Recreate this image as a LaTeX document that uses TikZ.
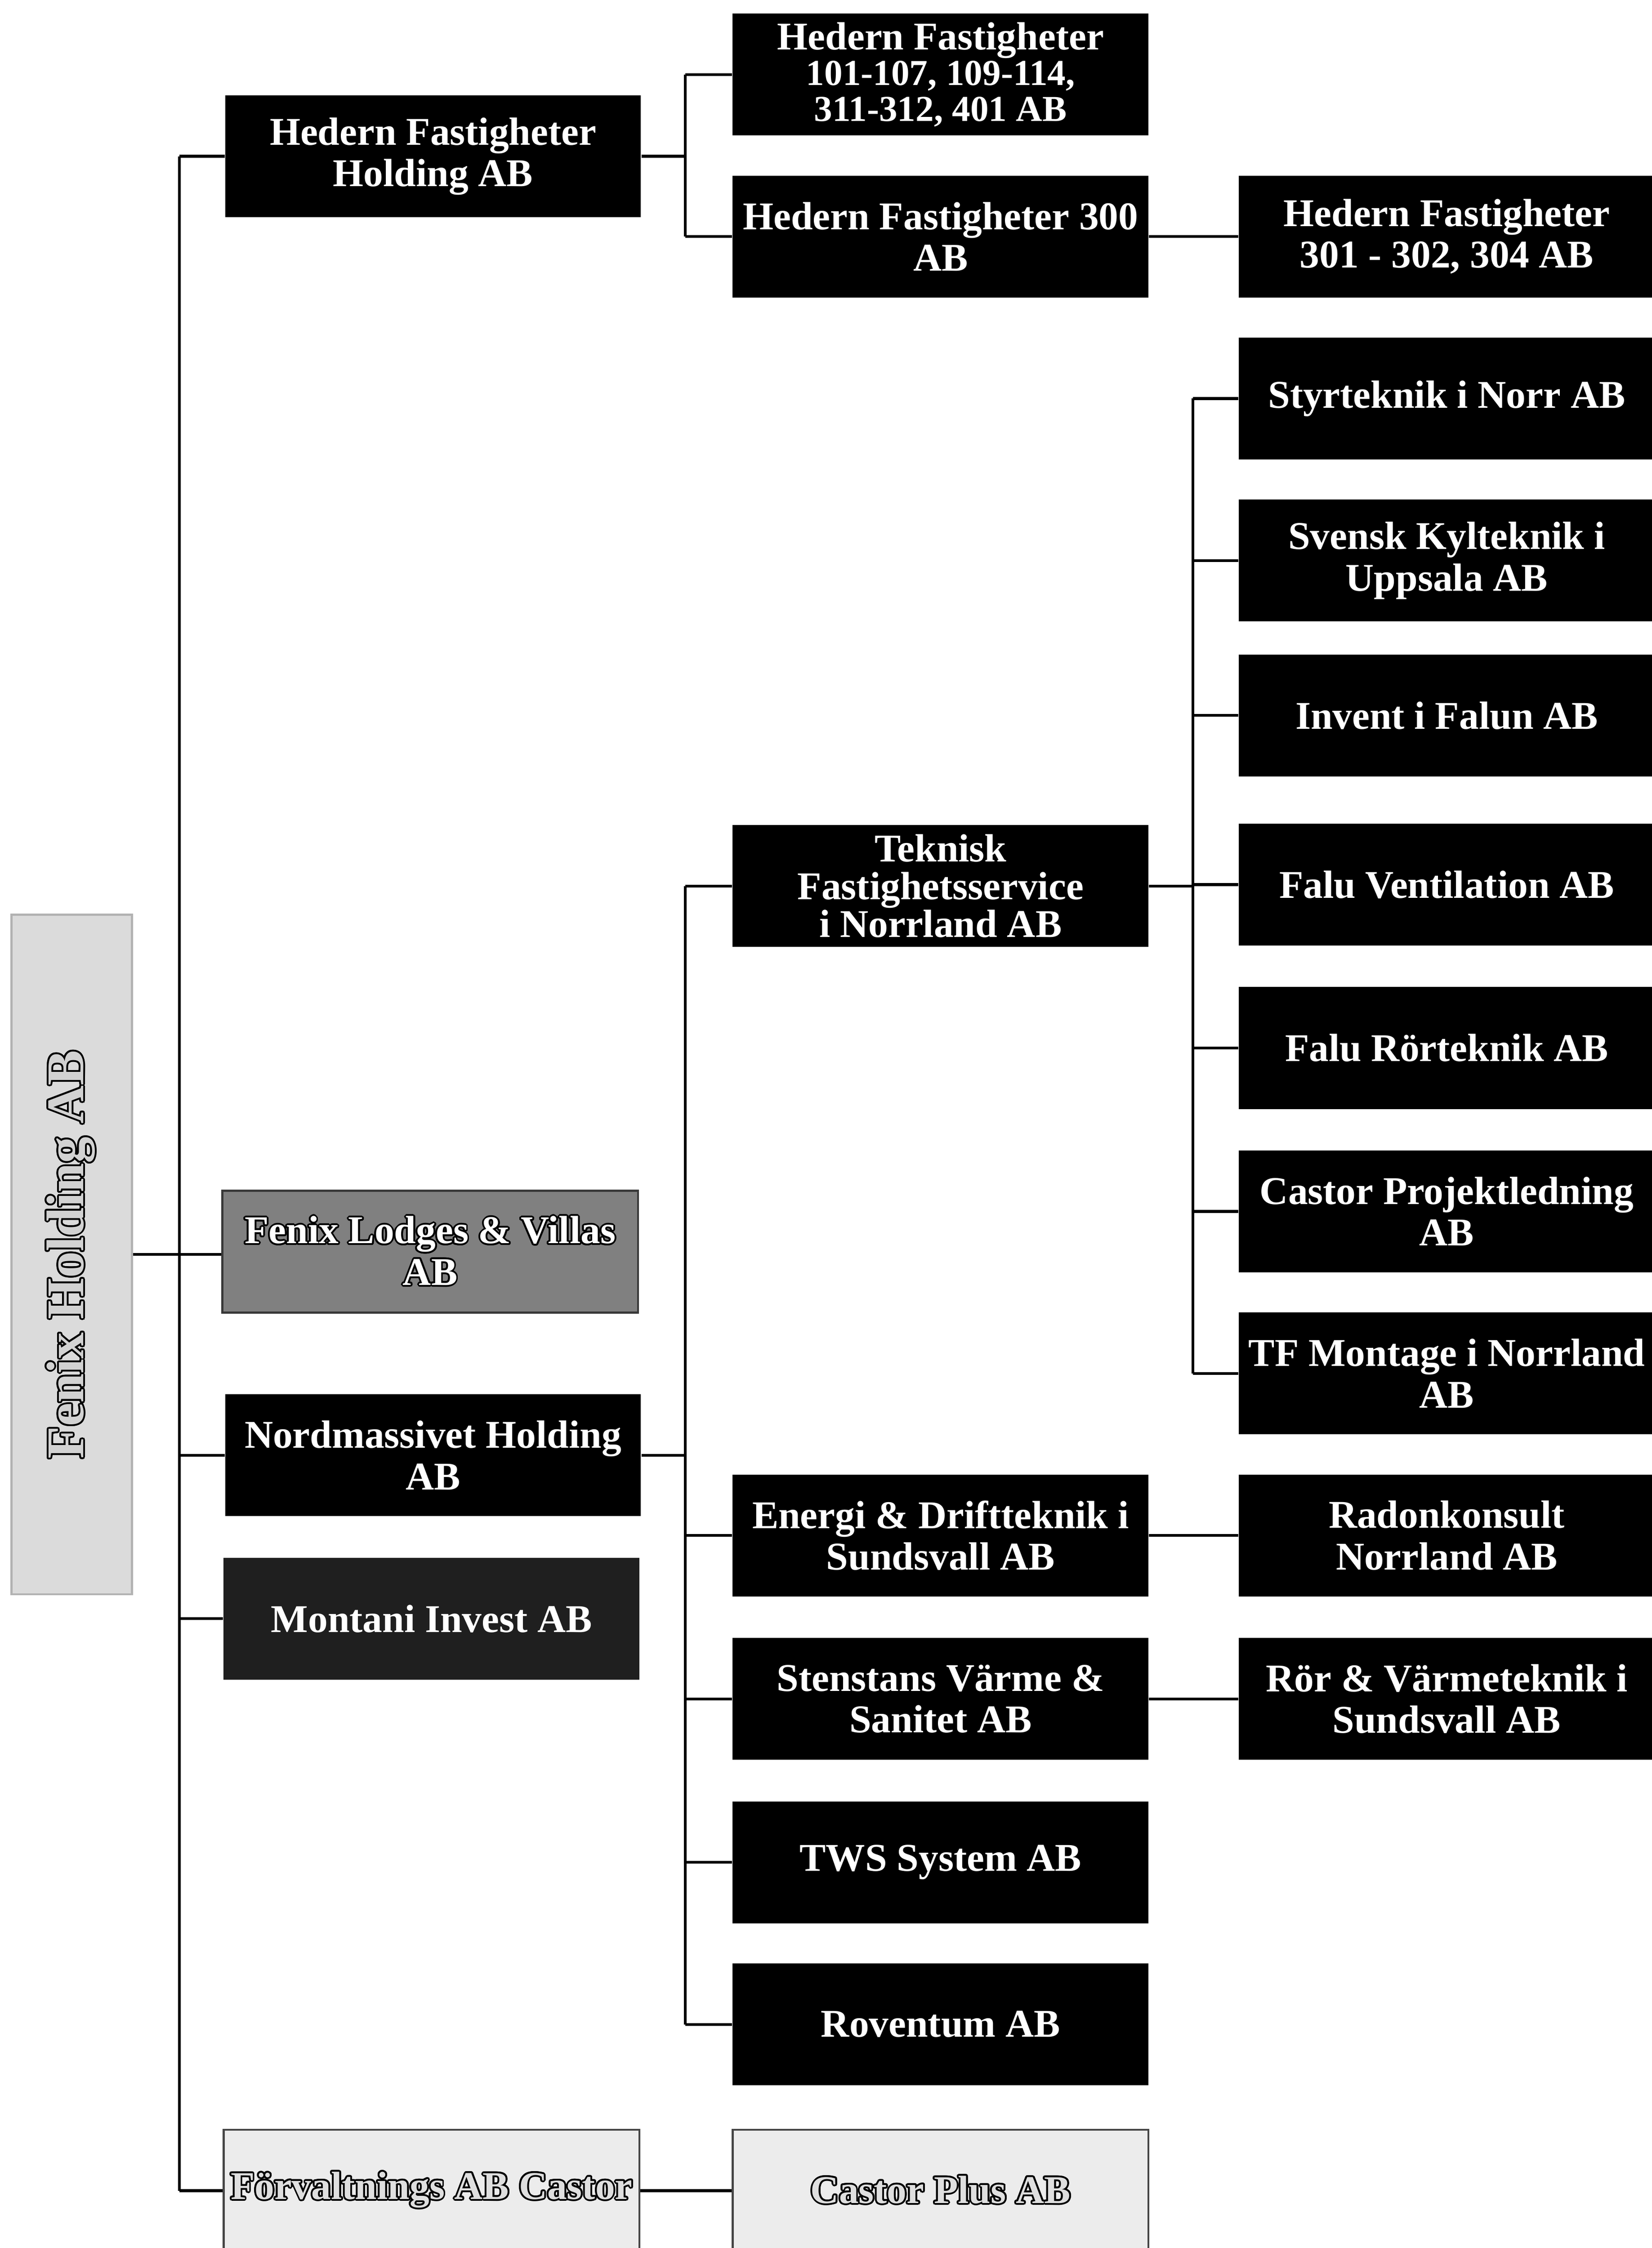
\documentclass[tikz,border=0pt]{standalone}
\usepackage{fontspec}
\setmainfont{Liberation Serif}
\usepackage{contour}
\usetikzlibrary{calc}

\contourlength{0.7pt}
\newcommand{\kontur}[1]{\contour{black}{#1}}

\tikzset{
	firma/.style={fill=black, text=white, minimum width=5.8cm, minimum height=1.7cm, inner sep=1pt, align=center, font=\bfseries\fontsize{15.6}{16.5}\selectfont},
	grafirma/.style={firma, fill=black!50, draw=gray!45!black, line width=0.8pt},
	ljusfirma/.style={firma, fill=gray!15, text=gray!25, draw=gray!55!black, line width=0.8pt},
	linje/.style={line width=1.1pt},
}

\begin{document}
\begin{tikzpicture}[x=0.2mm, y=-0.2mm]
		\useasboundingbox (0,0) rectangle (1152,1568);

		\node[firma, minimum width=9.48cm, minimum height=1.68cm, rotate=90, fill=gray!28, draw=gray!60, line width=0.8pt, text=gray!35, font=\bfseries\fontsize{21}{22}\selectfont] (fha) at (50,875) {\kontur{Fenix Holding AB}};

		\node[firma] (hfh) at (302,109) {Hedern Fastigheter\\Holding AB};
		\node[grafirma] (flv) at (300,873) {\kontur{Fenix Lodges \& Villas}\\\kontur{AB}};
		\node[firma] (nmh) at (302,1015) {Nordmassivet Holding\\AB};
		\node[firma, fill=black!88] (mia) at (301,1129) {Montani Invest AB};
		\node[ljusfirma] (fac) at (301,1528) {\kontur{Förvaltnings AB Castor}};

		\node[firma, font=\bfseries\fontsize{14.5}{14.2}\selectfont] (hf1) at (656,52) {{\fontsize{15.6}{14.2}\selectfont Hedern Fastigheter}\\101-107, 109-114,\\311-312, 401 AB};
		\node[firma] (hf3) at (656,165) {Hedern Fastigheter 300\\AB};
		\node[firma, font=\bfseries\fontsize{15.6}{15}\selectfont] (tfn) at (656,618) {Teknisk\\Fastighetsservice\\i Norrland AB};
		\node[firma] (edt) at (656,1071) {Energi \& Driftteknik i\\Sundsvall AB};
		\node[firma] (ssv) at (656,1185) {Stenstans Värme \&\\Sanitet AB};
		\node[firma] (tws) at (656,1299) {TWS System AB};
		\node[firma] (rov) at (656,1412) {Roventum AB};
		\node[ljusfirma] (cpl) at (656,1528) {\kontur{Castor Plus AB}};

		\node[firma] (hf4) at (1009,165) {Hedern Fastigheter\\301 - 302, 304 AB};
		\node[firma] (sty) at (1009,278) {Styrteknik i Norr AB};
		\node[firma] (skt) at (1009,391) {Svensk Kylteknik i\\Uppsala AB};
		\node[firma] (ifa) at (1009,499) {Invent i Falun AB};
		\node[firma] (fve) at (1009,617) {Falu Ventilation AB};
		\node[firma] (frt) at (1009,731) {Falu Rörteknik AB};
		\node[firma] (cpr) at (1009,845) {Castor Projektledning\\AB};
		\node[firma] (tfm) at (1009,958) {TF Montage i Norrland\\AB};
		\node[firma] (rad) at (1009,1071) {Radonkonsult\\Norrland AB};
		\node[firma] (rvs) at (1009,1185) {Rör \& Värmeteknik i\\Sundsvall AB};

		\coordinate (bus) at (125,875);
		\coordinate (hbus) at (478,0);
		\coordinate (nbus) at (478,0);
		\coordinate (tbus) at (832,0);

		% moderbolaget
		\draw[linje] (fha.south) -- (fha.south -| flv.west);
		\draw[linje] (bus |- hfh.west) -- (bus |- fac.west);
		\foreach \n in {hfh,nmh,mia,fac}
			\draw[linje] (bus |- \n.west) -- (\n.west);

		% Hedern
		\draw[linje] (hfh.east) -- (hbus |- hfh.east);
		\draw[linje] (hbus |- hf1.west) -- (hbus |- hf3.west);
		\foreach \n in {hf1,hf3}
			\draw[linje] (hbus |- \n.west) -- (\n.west);
		\draw[linje] (hf3.east) -- (hf4.west);

		% Nordmassivet
		\draw[linje] (nmh.east) -- (nbus |- nmh.east);
		\draw[linje] (nbus |- tfn.west) -- (nbus |- rov.west);
		\foreach \n in {tfn,edt,ssv,tws,rov}
			\draw[linje] (nbus |- \n.west) -- (\n.west);

		% Teknisk Fastighetsservice
		\draw[linje] (tfn.east) -- (tbus |- tfn.east);
		\draw[linje] (tbus |- sty.west) -- (tbus |- tfm.west);
		\foreach \n in {sty,skt,ifa,fve,frt,cpr,tfm}
			\draw[linje] (tbus |- \n.west) -- (\n.west);

		\draw[linje] (edt.east) -- (rad.west);
		\draw[linje] (ssv.east) -- (rvs.west);
		\draw[linje] (fac.east) -- (cpl.west);
\end{tikzpicture}
\end{document}
